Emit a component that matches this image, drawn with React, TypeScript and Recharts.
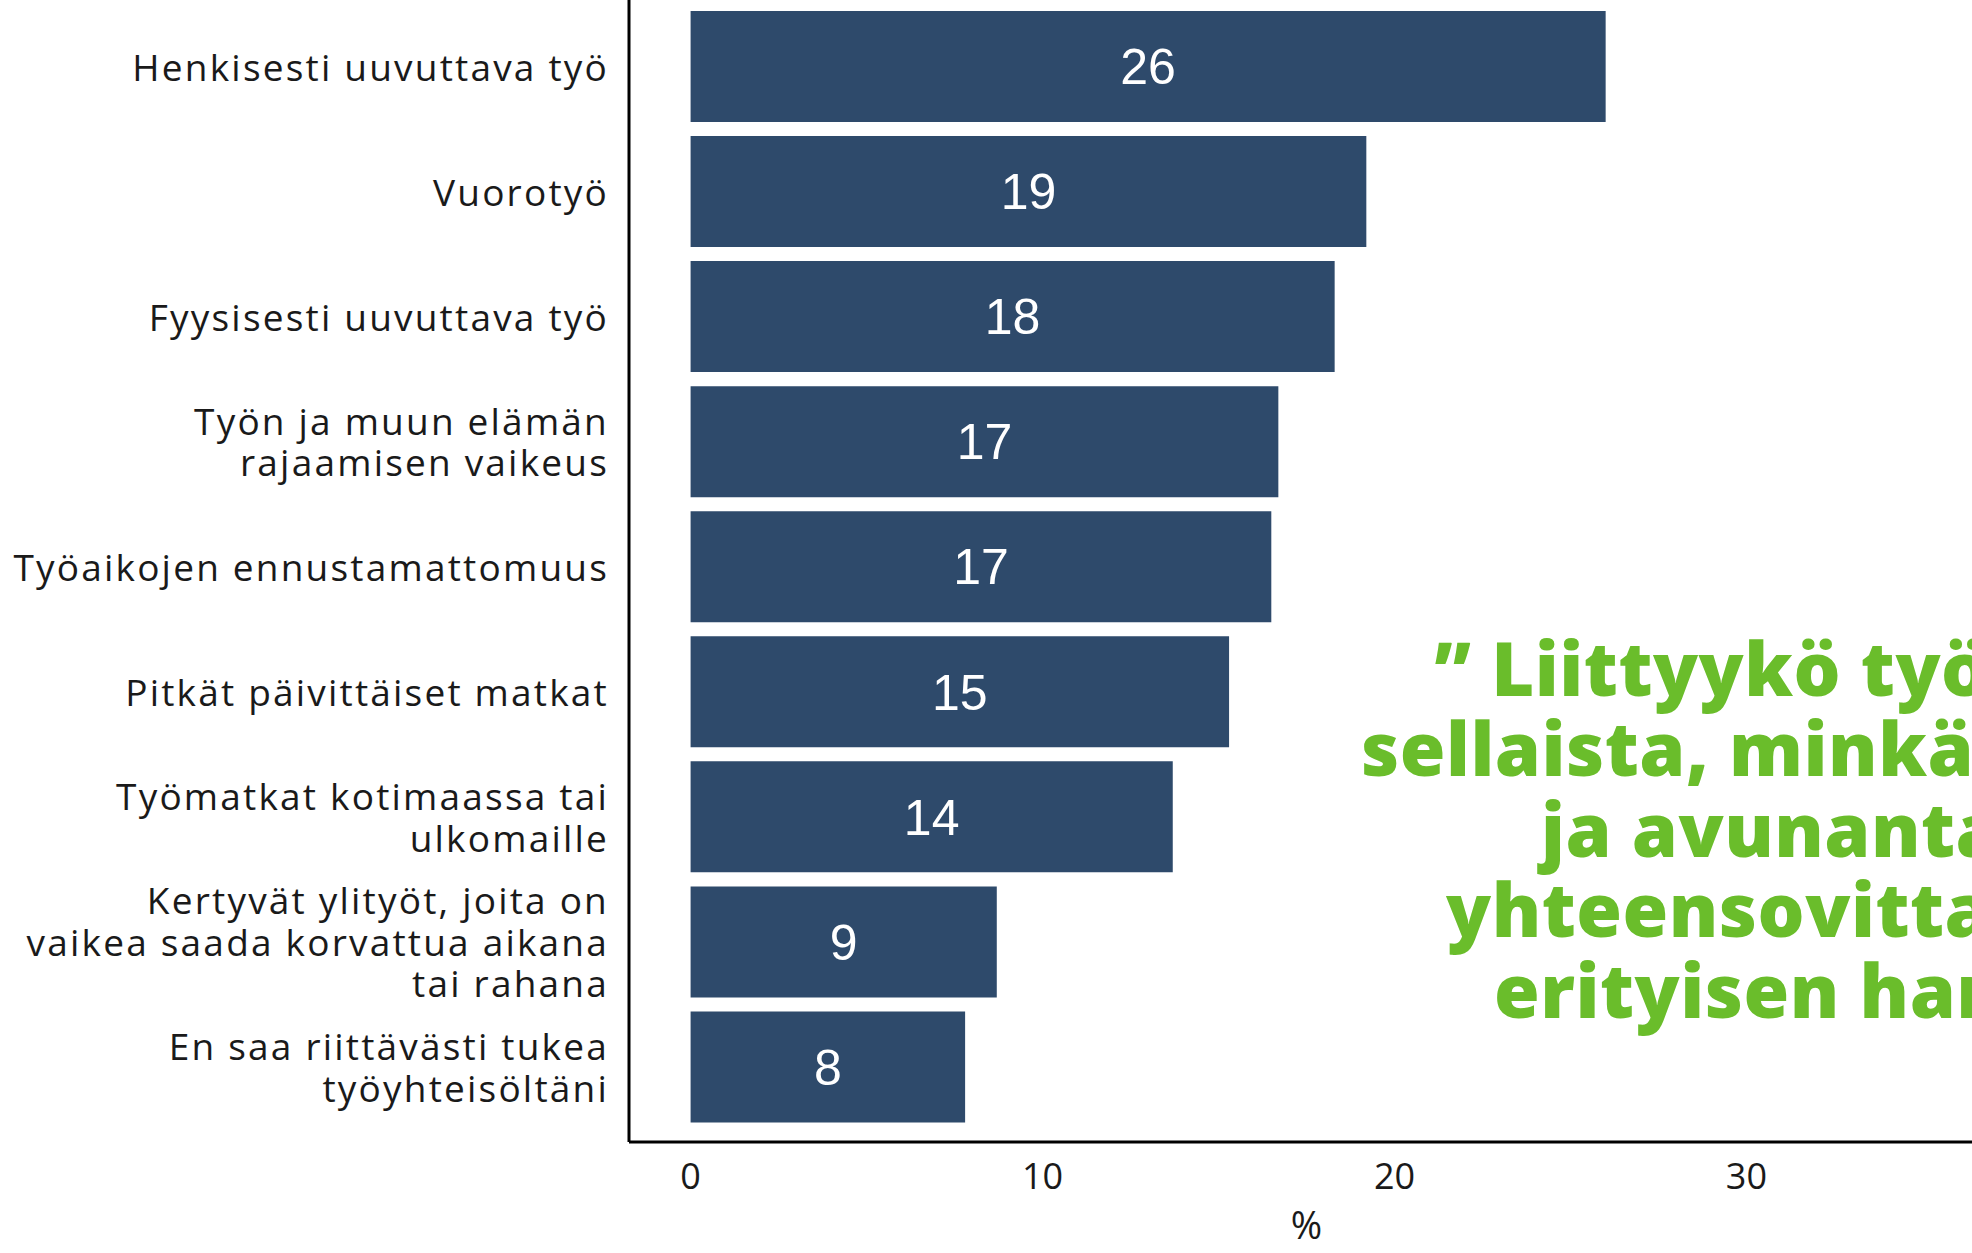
import { BarChart, Bar, XAxis, YAxis, LabelList } from "recharts";

// Kuormitustekijät, % vastaajista
const categories = [
  "Henkisesti uuvuttava työ",
  "Vuorotyö",
  "Fyysisesti uuvuttava työ",
  "Työn ja muun elämän\nrajaamisen vaikeus",
  "Työaikojen ennustamattomuus",
  "Pitkät päivittäiset matkat",
  "Työmatkat kotimaassa tai\nulkomaille",
  "Kertyvät ylityöt, joita on\nvaikea saada korvattua aikana\ntai rahana",
  "En saa riittävästi tukea\ntyöyhteisöltäni",
];
const shares = [26.0, 19.2, 18.3, 16.7, 16.5, 15.3, 13.7, 8.7, 7.8];
const xTicks = [0, 10, 20, 30];
const quoteLines = [
  "” Liittyykö työhösi",
  "sellaista, minkä vuoksi",
  "ja avunantajuuden",
  "yhteensovittaminen",
  "erityisen hankalaa",
];

const data = categories.map((category, i) => ({ category, value: shares[i] }));

const BAR = "#2E4A6B";
const INK = "#1a1a1a";
const GREEN = "#6ABD2B";
const LABEL_FONT = "'Open Sans', 'Noto Sans', sans-serif";

// left edge + baseline of each line of the overlay quote
const quotePos = [
  { x: 1434, y: 696 },
  { x: 1361, y: 776 },
  { x: 1541, y: 857 },
  { x: 1446, y: 937 },
  { x: 1494, y: 1018 },
];

function CategoryTick(props: any) {
  const { x, y, payload } = props;
  const lines = String(payload.value).split("\n");
  const lh = 41.5;
  const first = 14 - ((lines.length - 1) * lh) / 2;
  return (
    <text
      x={x}
      y={y}
      textAnchor="end"
      fill={INK}
      fontFamily={LABEL_FONT}
      fontSize={37}
      letterSpacing={2.2}
    >
      {lines.map((line, i) => (
        <tspan key={i} x={x} dy={i === 0 ? first : lh}>
          {line}
        </tspan>
      ))}
    </text>
  );
}

export default function App() {
  return (
    <div
      style={{
        position: "fixed",
        left: 0,
        top: 0,
        width: 1972,
        height: 1253,
        overflow: "hidden",
        background: "#fff",
      }}
    >
      <BarChart
        layout="vertical"
        width={1984}
        height={1253}
        data={data}
        margin={{ top: 0, right: 0, bottom: 0, left: 0 }}
      >
        <XAxis
          type="number"
          domain={[-1.75, 36.75]}
          ticks={xTicks}
          allowDataOverflow
          height={111}
          tickLine={false}
          tickSize={0}
          tickMargin={21}
          axisLine={{ stroke: "#000", strokeWidth: 3 }}
          tick={{ fill: INK, fontSize: 36, fontFamily: LABEL_FONT }}
          label={{
            value: "%",
            position: "insideBottom",
            offset: 14,
            fill: INK,
            fontSize: 38,
            fontFamily: LABEL_FONT,
          }}
        />
        <YAxis
          type="category"
          dataKey="category"
          width={629}
          interval={0}
          padding={{ top: 4, bottom: 12.5 }}
          tickLine={false}
          tickSize={0}
          tickMargin={20}
          axisLine={{ stroke: "#000", strokeWidth: 3 }}
          tick={<CategoryTick />}
        />
        <Bar dataKey="value" fill={BAR} barSize={111} isAnimationActive={false}>
          <LabelList
            dataKey="value"
            position="center"
            formatter={(v: any) => Math.round(Number(v))}
            fill="#fff"
            fontSize={50}
            fontFamily="'Liberation Sans', Arial, sans-serif"
          />
        </Bar>
      </BarChart>
      <svg
        width={1972}
        height={1253}
        style={{ position: "absolute", left: 0, top: 0, pointerEvents: "none" }}
      >
        {quoteLines.map((line, i) => (
          <text
            key={i}
            x={quotePos[i].x}
            y={quotePos[i].y}
            fill={GREEN}
            fontFamily={LABEL_FONT}
            fontWeight={800}
            fontSize={74}
            letterSpacing={0.5}
          >
            {line}
          </text>
        ))}
      </svg>
    </div>
  );
}
